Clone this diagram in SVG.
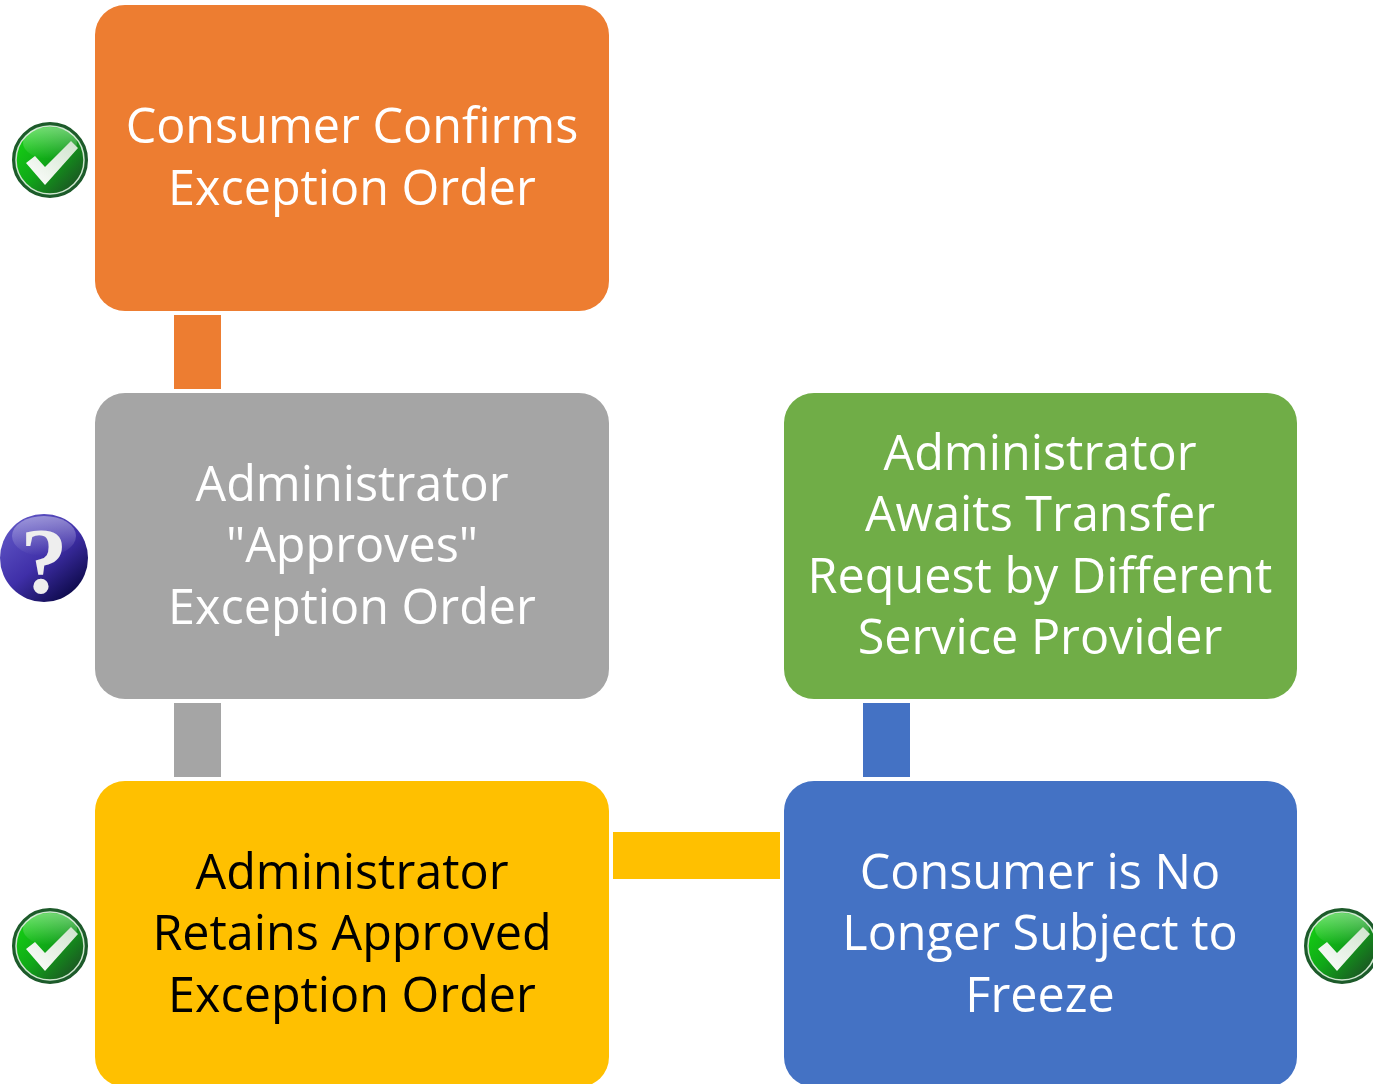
<svg xmlns="http://www.w3.org/2000/svg" width="1373" height="1084" viewBox="0 0 1373 1084">
<style>
text{font-family:"Open Sans","Noto Sans",sans-serif;font-size:48.5px;text-anchor:middle}
.w{fill:#fff}.k{fill:#000}
</style>
<defs>
<linearGradient id="gg" x1="0.15" y1="0.2" x2="0.85" y2="0.85"><stop offset="0" stop-color="#14c814"/><stop offset="0.45" stop-color="#10a818"/><stop offset="1" stop-color="#1a5c22"/></linearGradient>
<linearGradient id="ck" x1="0" y1="1" x2="1" y2="0"><stop offset="0" stop-color="#fff"/><stop offset="1" stop-color="#cfe3cc"/></linearGradient>
<linearGradient id="bg" x1="0.2" y1="0.15" x2="0.8" y2="0.9"><stop offset="0" stop-color="#5a4fc0"/><stop offset="0.5" stop-color="#3f2fa8"/><stop offset="1" stop-color="#100c50"/></linearGradient>
<linearGradient id="gl" x1="0" y1="0" x2="0" y2="1"><stop offset="0" stop-color="#fff" stop-opacity="0.4"/><stop offset="1" stop-color="#fff" stop-opacity="0"/></linearGradient>
<g id="ok"><circle r="37" fill="#1d5f2c" stroke="#1d5a2a" stroke-width="2"/><circle r="34" fill="url(#gg)" stroke="#cfe6cf" stroke-width="1.5"/><ellipse cx="0" cy="-17" rx="27" ry="16" fill="url(#gl)"/><path d="M-24 3L-15 -4L-5 7L21 -19L28 -12L-5 25Z" fill="url(#ck)"/></g>
</defs>
<rect width="1373" height="1084" fill="#fff"/>
<g id="connectors">
<rect x="174" y="315" width="47" height="74" fill="#ed7d31"/>
<rect x="174" y="703" width="47" height="74" fill="#a5a5a5"/>
<rect x="613" y="832" width="167" height="47" fill="#ffc000"/>
<rect x="863" y="703" width="47" height="74" fill="#4472c4"/>
</g>
<g id="n1"><rect x="95" y="5" width="514" height="306" rx="30" fill="#ed7d31"/><text class="w" x="352" y="142.500">Consumer Confirms</text><text class="w" x="352" y="204.500">Exception Order</text></g>
<g id="n2"><rect x="95" y="393" width="514" height="306" rx="30" fill="#a5a5a5"/><text class="w" x="352" y="500.500">Administrator</text><text class="w" x="352" y="561.500">"Approves"</text><text class="w" x="352" y="623.500">Exception Order</text></g>
<g id="n3"><rect x="95" y="781" width="514" height="306" rx="30" fill="#ffc000"/><text class="k" x="352" y="888.500">Administrator</text><text class="k" x="352" y="949.500">Retains Approved</text><text class="k" x="352" y="1011.500">Exception Order</text></g>
<g id="n4"><rect x="784" y="781" width="513" height="306" rx="30" fill="#4472c4"/><text class="w" x="1040" y="888.500">Consumer is No</text><text class="w" x="1040" y="949.500">Longer Subject to</text><text class="w" x="1040" y="1011.500">Freeze</text></g>
<g id="n5"><rect x="784" y="393" width="513" height="306" rx="30" fill="#70ad47"/><text class="w" x="1040" y="469.500">Administrator</text><text class="w" x="1040" y="530.500">Awaits Transfer</text><text class="w" x="1040" y="592.500">Request by Different</text><text class="w" x="1040" y="653.500">Service Provider</text></g>
<g id="i1"><use href="#ok" x="50" y="160"/></g>
<g id="i2"><circle cx="44" cy="558" r="44" fill="url(#bg)"/><ellipse cx="44" cy="536" rx="32" ry="20" fill="url(#gl)"/><text x="44" y="592" style="font-family:'Liberation Serif',serif;font-size:94px;font-weight:bold" fill="#eeeeee">?</text></g>
<g id="i3"><use href="#ok" x="50" y="946"/></g>
<g id="i4"><use href="#ok" x="1342" y="946"/></g>
</svg>
